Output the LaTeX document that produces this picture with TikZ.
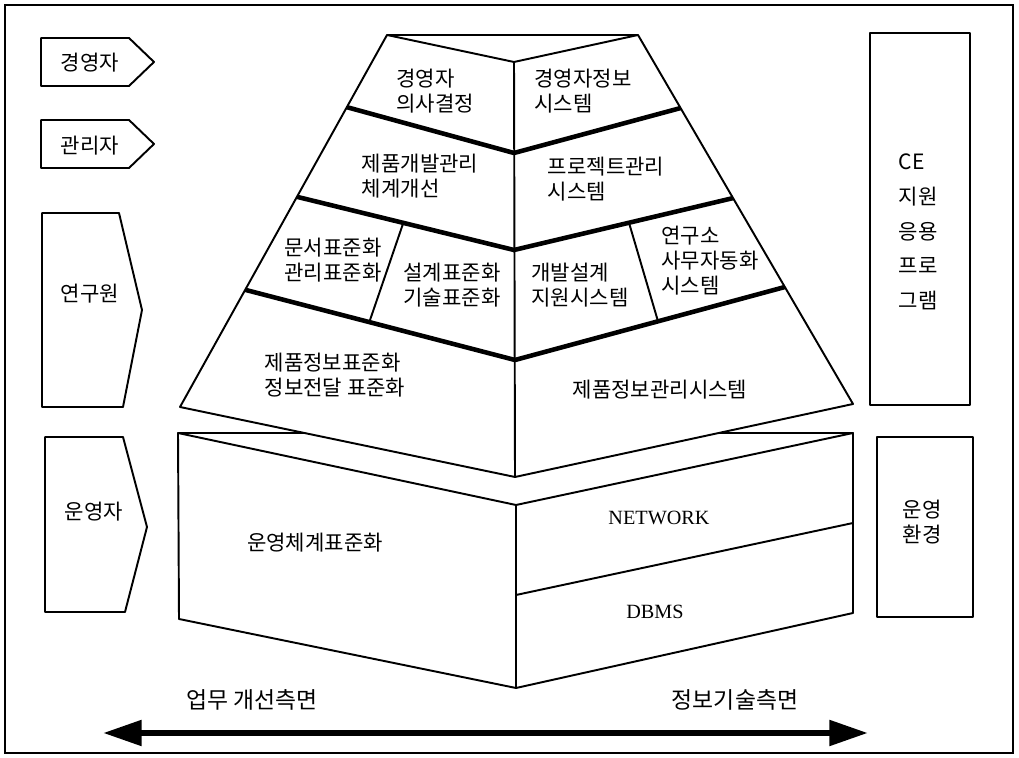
\documentclass[tikz,border=0pt]{standalone}
\usepackage{fontspec}
\setmainfont{Noto Sans CJK KR}
\newfontfamily\latinserif{Liberation Serif}
\usepackage{tikz}
\usetikzlibrary{calc,arrows.meta}

\begin{document}
\begin{tikzpicture}[x=2cm,y=2cm,
    thinline/.style={line width=1.1pt, line join=round},
    bandline/.style={line width=2.6pt, line join=round},
    txt/.style={inner sep=0pt, align=left, font=\fontsize{12}{14.2}\selectfont}]

        \useasboundingbox (0,0) rectangle (10.19,7.58);

        %Frame
        \draw [line width=1pt] (0.05,0.05) rectangle (10.13,7.53);

        %Roles
        \draw [thinline] (0.41,7.20) -- (1.29,7.20) -- (1.54,6.96) -- (1.29,6.72) -- (0.41,6.72) -- cycle;
        \node [txt] (exec) at (0.90,6.95) {경영자};
        \draw [thinline] (0.41,6.38) -- (1.29,6.38) -- (1.54,6.14) -- (1.29,5.90) -- (0.41,5.90) -- cycle;
        \node [txt] (mgr) at (0.90,6.12) {관리자};
        \draw [thinline] (0.42,5.45) -- (1.19,5.45) -- (1.42,4.48) -- (1.23,3.51) -- (0.42,3.51) -- cycle;
        \node [txt] (res) at (0.90,4.64) {연구원};
        \draw [thinline] (0.45,3.21) -- (1.23,3.21) -- (1.47,2.31) -- (1.25,1.46) -- (0.45,1.46) -- cycle;
        \node [txt] (oper) at (0.94,2.46) {운영자};

        %Pyramid
        \coordinate (TL) at (3.87,7.23);
        \coordinate (TR) at (6.38,7.23);
        \coordinate (BL) at (1.80,3.51);
        \coordinate (BR) at (8.53,3.54);
        \coordinate (T0) at (5.14,6.96);
        \coordinate (C1) at (5.14,6.05);
        \coordinate (C2) at (5.14,5.08);
        \coordinate (C3) at (5.15,3.98);
        \coordinate (C4) at (5.15,2.81);
        \coordinate (L1) at ($(TL)!0.194!(BL)$);
        \coordinate (L2) at ($(TL)!0.435!(BL)$);
        \coordinate (L3) at ($(TL)!0.685!(BL)$);
        \coordinate (R1) at ($(TR)!0.198!(BR)$);
        \coordinate (R2) at ($(TR)!0.442!(BR)$);
        \coordinate (R3) at ($(TR)!0.683!(BR)$);
        \draw [thinline] (TL) -- (TR) -- (BR) -- (C4) -- (BL) -- cycle;
        \draw [thinline] (TL) -- (T0) -- (TR);
        \draw [thinline] (T0) -- (C4);
        \draw [bandline] (L1) -- (C1) -- (R1);
        \draw [bandline] (L2) -- (C2) -- (R2);
        \draw [bandline] (L3) -- (C3) -- (R3);
        \draw [thinline] ($(L2)!0.49!(C2)$) -- ($(L3)!0.46!(C3)$);
        \draw [thinline] ($(C2)!0.525!(R2)$) -- ($(C3)!0.53!(R3)$);

        \node [txt] (dec) at (4.35,6.67) {경영자\\의사결정};
        \node [txt] (eis) at (5.83,6.67) {경영자정보\\시스템};
        \node [txt] (pdm) at (4.20,5.82) {제품개발관리\\체계개선};
        \node [txt] (pms) at (6.06,5.79) {프로젝트관리\\시스템};
        \node [txt] (doc) at (3.33,4.98) {문서표준화\\관리표준화};
        \node [txt] (des) at (4.52,4.73) {설계표준화\\기술표준화};
        \node [txt] (dev) at (5.80,4.73) {개발설계\\지원시스템};
        \node [txt] (lab) at (7.10,4.97) {연구소\\사무자동화\\시스템};
        \node [txt] (pinf) at (3.35,3.83) {제품정보표준화\\정보전달 표준화};
        \node [txt] (pims) at (6.60,3.68) {제품정보관리시스템};

        %Base block
        \coordinate (LT) at (1.78,3.25);
        \coordinate (RT) at (8.53,3.25);
        \coordinate (LB) at (1.79,1.39);
        \coordinate (RB) at (8.53,1.45);
        \coordinate (C5) at (5.16,2.53);
        \coordinate (C6) at (5.16,0.70);
        \coordinate (N1) at (5.16,1.63);
        \coordinate (N2) at (8.53,2.35);
        \draw [thinline] (LT) -- (C5) -- (RT) -- (RB) -- (C6) -- (LB) -- cycle;
        \draw [thinline] (C5) -- (C6);
        \draw [thinline] (N1) -- (N2);
        \draw [thinline] (LT) -- (intersection of LT--RT and BL--C4);
        \draw [thinline] (RT) -- (intersection of LT--RT and C4--BR);

        \node [txt] (ops) at (3.15,2.15) {운영체계표준화};
        \node [txt, font=\latinserif\fontsize{11.5}{14}\selectfont] (net) at (6.59,2.40) {NETWORK};
        \node [txt, font=\latinserif\fontsize{11.5}{14}\selectfont] (dbms) at (6.55,1.46) {DBMS};

        %Right boxes
        \draw [thinline] (8.70,7.25) rectangle (9.70,3.53);
        \node [txt, font=\fontsize{12}{19.8}\selectfont] (ce) at (9.18,5.26) {CE\\지원\\응용\\프로\\그램};
        \draw [thinline] (8.77,3.21) rectangle (9.73,1.41);
        \node [txt] (env) at (9.22,2.36) {운영\\환경};

        %Axis
        \coordinate (AL) at (1.03,0.25);
        \coordinate (AR) at (8.68,0.25);
        \draw [line width=3.6pt, {Triangle[length=22pt,width=14pt]}-{Triangle[length=22pt,width=14pt]}] (AL) -- (AR);
        \node [txt, font=\fontsize{13}{15}\selectfont] (work) at (2.52,0.58) {업무 개선측면};
        \node [txt, font=\fontsize{13}{15}\selectfont] (it) at (7.35,0.58) {정보기술측면};

\end{tikzpicture}
\end{document}
